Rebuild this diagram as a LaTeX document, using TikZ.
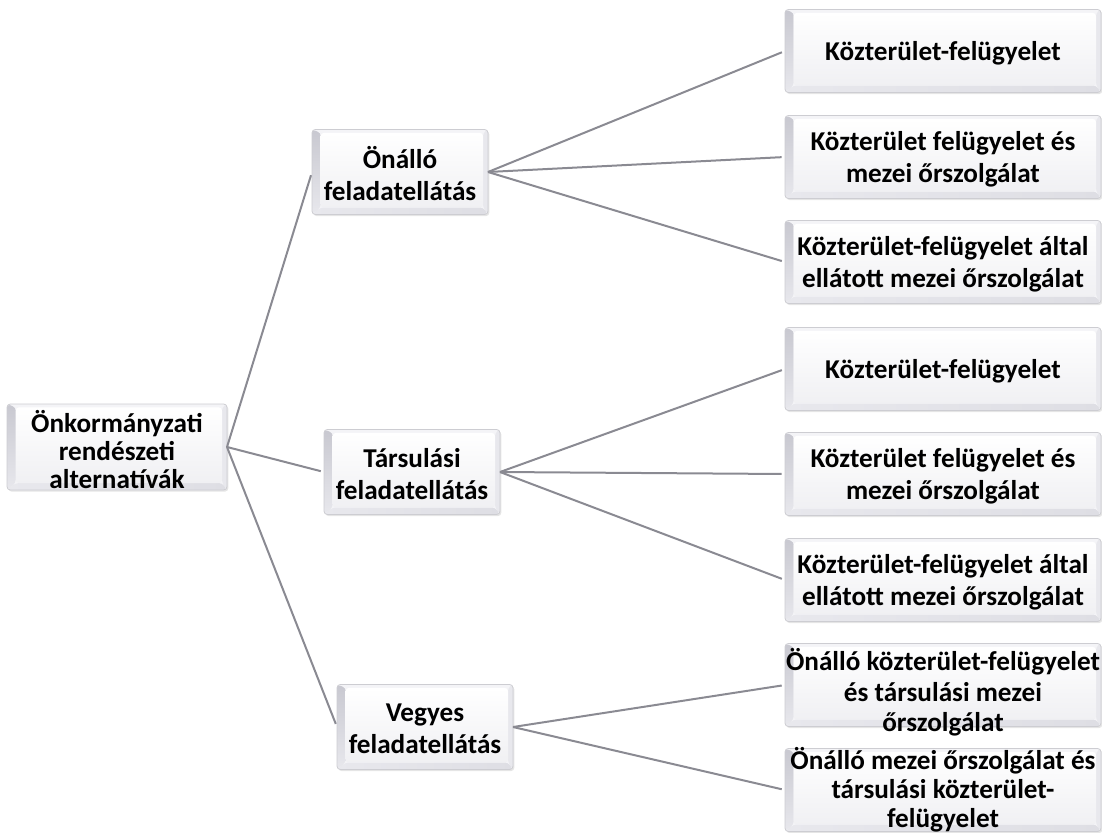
\documentclass[tikz,border=0pt]{standalone}
\usepackage{fontspec}
\setmainfont{Carlito}
\usetikzlibrary{shadows}

\definecolor{linegray}{RGB}{138,138,146}
\definecolor{bevtop}{RGB}{244,244,247}
\definecolor{bevright}{RGB}{232,232,237}
\definecolor{bevbottom}{RGB}{222,222,228}
\definecolor{bevleftA}{RGB}{200,200,208}
\definecolor{bevleftB}{RGB}{232,232,237}
\definecolor{facebottom}{RGB}{240,240,243}
\definecolor{frame}{RGB}{205,205,210}

\tikzset{
  bevelbox/.style={
    rectangle, rounded corners=2.5pt, draw=frame, line width=0.6pt,
    inner sep=0pt, outer sep=0pt, fill=bevtop,
    drop shadow={shadow xshift=1pt, shadow yshift=-1.2pt, opacity=0.10, fill=black},
    path picture={
      \coordinate (pnw) at (path picture bounding box.north west);
      \coordinate (pne) at (path picture bounding box.north east);
      \coordinate (pse) at (path picture bounding box.south east);
      \coordinate (psw) at (path picture bounding box.south west);
      \coordinate (inw) at ([shift={(6.5pt,-2.5pt)}]pnw);
      \coordinate (ine) at ([shift={(-3.75pt,-2.5pt)}]pne);
      \coordinate (ise) at ([shift={(-3.75pt,5.25pt)}]pse);
      \coordinate (isw) at ([shift={(6.5pt,5.25pt)}]psw);
      \fill[bevright] (pne) -- (pse) -- (ise) -- (ine) -- cycle;
      \shade[left color=bevleftB, right color=bevbottom]
        (psw) -- (pse) -- (ise) -- (isw) -- cycle;
      \shade[top color=bevleftA, bottom color=bevleftB]
        (pnw) -- (psw) -- (isw) -- (inw) -- cycle;
      \shade[top color=white, bottom color=facebottom]
        (inw) rectangle (ise);
    }
  },
  rootbox/.style={bevelbox, minimum width=165pt, minimum height=64.5pt},
  midbox/.style={bevelbox, minimum width=132pt, minimum height=63.75pt},
  leafbox/.style={bevelbox, minimum width=237pt, minimum height=62.25pt},
  boxtext/.style={align=center, inner sep=0pt,
    font=\fontsize{20.4pt}{24pt}\selectfont\bfseries},
  tighttext/.style={boxtext,
    font=\fontsize{20.4pt}{23pt}\selectfont\bfseries},
  tightertext/.style={boxtext,
    font=\fontsize{20.4pt}{22pt}\selectfont\bfseries},
  roottext/.style={align=center, inner sep=0pt,
    font=\fontsize{20.4pt}{20.8pt}\selectfont\bfseries},
  conn/.style={draw=linegray, line width=1.5pt, shorten >=2.5pt}
}

\begin{document}
\begin{tikzpicture}[x=0.75pt, y=-0.75pt]
\useasboundingbox (0,0) rectangle (1102,832);

% boxes
\node[rootbox] (root) at (117,447) {};
\node[midbox] (m1) at (400,172) {};
\node[midbox] (m2) at (412,472) {};
\node[midbox] (m3) at (425,727) {};

\node[leafbox] (r1) at (943,51) {};
\node[leafbox] (r2) at (943,157) {};
\node[leafbox] (r3) at (943,262) {};
\node[leafbox] (r4) at (943,369) {};
\node[leafbox] (r5) at (943,474) {};
\node[leafbox] (r6) at (943,580) {};
\node[leafbox] (r7) at (943,685) {};
\node[leafbox] (r8) at (943,790) {};

% connectors
\draw[conn] (root.east) -- (m1.west);
\draw[conn] (root.east) -- (m2.west);
\draw[conn] (root.east) -- (m3.west);
\foreach \r in {r1,r2,r3} \draw[conn] (m1.east) -- (\r.west);
\foreach \r in {r4,r5,r6} \draw[conn] (m2.east) -- (\r.west);
\foreach \r in {r7,r8} \draw[conn] (m3.east) -- (\r.west);

% labels
\node[roottext] (roott) at ([yshift=-2pt]root.center) {Önkormányzati\\rendészeti\\alternatívák};
\node[boxtext] (m1t) at ([yshift=-1.5pt]m1.center) {Önálló\\feladatellátás};
\node[boxtext] (m2t) at ([yshift=-1.5pt]m2.center) {Társulási\\feladatellátás};
\node[boxtext] (m3t) at ([yshift=-1.5pt]m3.center) {Vegyes\\feladatellátás};

\node[boxtext] (r1t) at ([yshift=-2pt]r1.center) {Közterület-felügyelet};
\node[boxtext] (r2t) at ([yshift=-2pt]r2.center) {Közterület felügyelet és\\mezei őrszolgálat};
\node[boxtext] (r3t) at ([yshift=-2pt]r3.center) {Közterület-felügyelet által\\ellátott mezei őrszolgálat};
\node[boxtext] (r4t) at ([yshift=-2pt]r4.center) {Közterület-felügyelet};
\node[boxtext] (r5t) at ([yshift=-2pt]r5.center) {Közterület felügyelet és\\mezei őrszolgálat};
\node[boxtext] (r6t) at ([yshift=-2pt]r6.center) {Közterület-felügyelet által\\ellátott mezei őrszolgálat};
\node[tighttext] (r7t) at ([yshift=-5.5pt]r7.center) {Önálló közterület-felügyelet\\és társulási mezei\\őrszolgálat};
\node[tightertext] (r8t) at ([yshift=0.3pt]r8.center) {Önálló mezei őrszolgálat és\\társulási közterület-\\felügyelet};
\end{tikzpicture}
\end{document}
